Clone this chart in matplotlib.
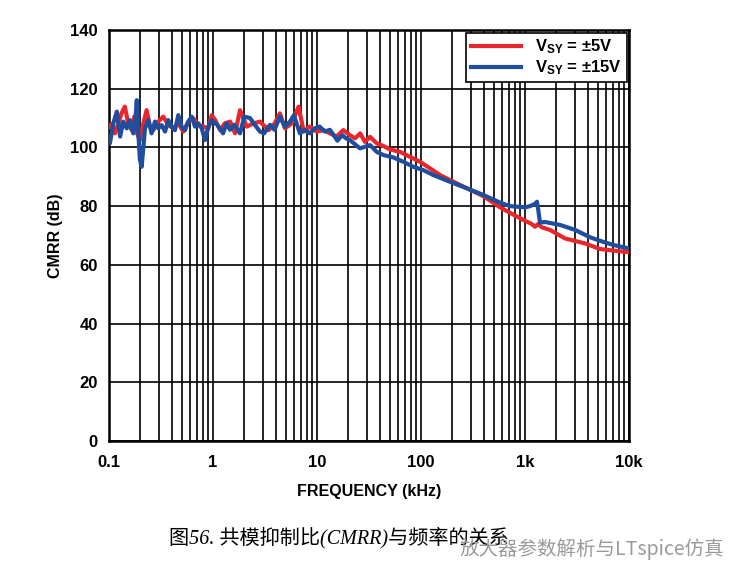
import matplotlib
matplotlib.use("Agg")
import matplotlib.pyplot as plt
from matplotlib.ticker import FixedLocator, LogLocator, NullFormatter

plt.rcParams['font.family'] = ['Liberation Sans', 'DejaVu Sans']
plt.rcParams['mathtext.fontset'] = 'custom'
plt.rcParams['mathtext.bf'] = 'Liberation Sans:bold'
plt.rcParams['mathtext.rm'] = 'Liberation Sans'

# frequency in kHz, CMRR in dB
f_5v = [0.1, 0.106, 0.114, 0.123, 0.132, 0.142, 0.153, 0.165, 0.175, 0.186,
        0.198, 0.214, 0.230, 0.248, 0.267, 0.298, 0.333, 0.372, 0.415, 0.464,
        0.518, 0.579, 0.647, 0.723, 0.808, 0.903, 0.972, 1.05, 1.17, 1.30,
        1.46, 1.63, 1.82, 2.11, 2.46, 2.83, 3.43, 3.92, 4.40, 4.93,
        5.72, 6.65, 7.46, 8.54, 9.9, 11.6, 13.3, 15.4, 17.9, 20.7,
        23.2, 26.0, 28.9, 32.4, 37.5, 43.5, 50.4, 62.8, 78.4, 97.8,
        122, 152, 190, 275, 398, 575, 832, 1000, 1150, 1247,
        1333, 1450, 1738, 2425, 3778, 5260, 7330, 10000]
cmrr_5v = [107, 108, 104.8, 108.2, 111.6, 113.9, 108.2, 105.9, 110.5, 104.8,
           102.5, 108.2, 112.7, 107.1, 105.9, 108.8, 110.5, 107.6, 106.5, 108.2,
           105.4, 108.8, 109.9, 107.6, 107.1, 106.5, 111.0, 109.3, 105.9, 108.2,
           108.8, 104.8, 112.7, 107.1, 108.2, 108.8, 105.9, 108.2, 111.6, 106.5,
           108.2, 113.9, 105.4, 107.1, 105.4, 105.9, 104.8, 103.7, 105.9, 104.2,
           103.1, 104.8, 101.9, 103.6, 101.4, 100.5, 99.3, 98.5, 96.8, 95.1,
           92.9, 90.6, 88.9, 86.1, 83.4, 79.6, 76.5, 75.0, 74.0, 73.0,
           73.9, 72.8, 71.9, 69.0, 67.3, 65.4, 64.8, 64.3]

f_15v = [0.1, 0.102, 0.110, 0.119, 0.128, 0.137, 0.148, 0.159, 0.171, 0.180,
         0.185, 0.191, 0.198, 0.206, 0.214, 0.222, 0.239, 0.257, 0.277, 0.298,
         0.321, 0.346, 0.372, 0.400, 0.431, 0.464, 0.500, 0.538, 0.579, 0.624,
         0.672, 0.723, 0.779, 0.838, 0.903, 0.972, 1.05, 1.10, 1.25, 1.35,
         1.46, 1.6, 1.82, 2.0, 2.27, 2.6, 2.83, 3.1, 3.53, 3.9,
         4.4, 4.9, 5.5, 6.0, 6.85, 7.6, 8.54, 9.5, 10.6, 11.9,
         13.3, 14.8, 15.7, 17.5, 19, 20.7, 25.9, 32.4, 37.5, 43.5,
         54.2, 67.7, 84.4, 105, 131, 190, 275, 398, 575, 718,
         1000, 1117, 1250, 1303, 1350, 1393, 1556, 2171, 3028, 4220,
         5260, 7000, 10000]
cmrr_15v = [101.5, 101.4, 108.2, 112.2, 103.7, 108.8, 106.5, 109.3, 104.8, 110,
            116.1, 105.9, 96, 93.4, 100, 106.5, 109.3, 104.8, 108.8, 106.5,
            107.6, 105.4, 109.3, 107.1, 105.9, 111.0, 107.1, 105.9, 108.8, 110.5,
            107.1, 108.2, 106.5, 102.5, 107.1, 109.3, 108.2, 107.7, 104.8, 108.2,
            106, 107.7, 104.8, 110.5, 110, 107.1, 105.4, 104.8, 107.7, 106,
            110.5, 107.1, 108.8, 111, 104.8, 106, 104.8, 106.5, 107.1, 105.4,
            106, 103.7, 102.3, 104.2, 103.1, 102.5, 99.7, 100.8, 98.5, 97.4,
            96.6, 95.1, 93.4, 92.3, 90.6, 88.3, 86.1, 83.8, 81.2, 80.0,
            79.6, 80.0, 80.8, 81.5, 78.0, 74.4, 74.6, 73.6, 71.9, 69.4,
            68.2, 66.8, 65.6]

xticks = [0.1, 1, 10, 100, 1000, 10000]
xticklabels = ["0.1", "1", "10", "100", "1k", "10k"]
yticks = [0, 20, 40, 60, 80, 100, 120, 140]

fig = plt.figure(figsize=(7.5, 5.84), dpi=100)
ax = fig.add_axes([0.1453, 0.2449, 0.6934, 0.7037])

ax.plot(f_5v, cmrr_5v, color="#e8262b", lw=3, label=r"$\mathbf{V_{SY}}$ = ±5V", zorder=3)
ax.plot(f_15v, cmrr_15v, color="#1f4e9e", lw=3, label=r"$\mathbf{V_{SY}}$ = ±15V", zorder=4)

ax.set_xscale("log")
ax.set_xlim(0.1, 10000)
ax.set_ylim(0, 140)
ax.xaxis.set_major_locator(FixedLocator(xticks))
ax.set_xticklabels(xticklabels)
ax.xaxis.set_minor_locator(LogLocator(base=10, subs=range(2, 10)))
ax.xaxis.set_minor_formatter(NullFormatter())
ax.set_yticks(yticks)

ax.grid(True, which="major", color="black", lw=1.2)
ax.grid(True, which="minor", axis="x", color="black", lw=1.2)
ax.tick_params(which="both", length=0)
ax.tick_params(axis="x", pad=10)
ax.tick_params(axis="y", pad=8)
for lab in ax.get_xticklabels() + ax.get_yticklabels():
    lab.set_fontweight("bold")
    lab.set_fontsize(12)
for s in ax.spines.values():
    s.set_linewidth(1.8)

ax.set_xlabel("FREQUENCY (kHz)", fontsize=11.5, fontweight="bold", labelpad=10)
ax.set_ylabel("CMRR (dB)", fontsize=11.5, fontweight="bold", labelpad=5)

leg = ax.legend(loc="upper right", fancybox=False, framealpha=1, edgecolor="black",
                prop={"weight": "bold", "size": 12}, handlelength=3.0,
                borderaxespad=0.15, labelspacing=0.15, borderpad=0.3)
leg.get_frame().set_linewidth(1.2)

fig.text(0.225, 0.08, "图56. 共模抑制比(CMRR)与频率的关系", fontsize=14.5, style="italic",
         family=["Liberation Serif", "Noto Sans CJK SC"], ha="left", va="center")
fig.text(0.965, 0.06, "放大器参数解析与LTspice仿真", fontsize=14, color="#9a9a9a",
         family=["Noto Sans CJK SC", "DejaVu Sans"], ha="right", va="center")

fig.savefig("out.png", dpi=100)
